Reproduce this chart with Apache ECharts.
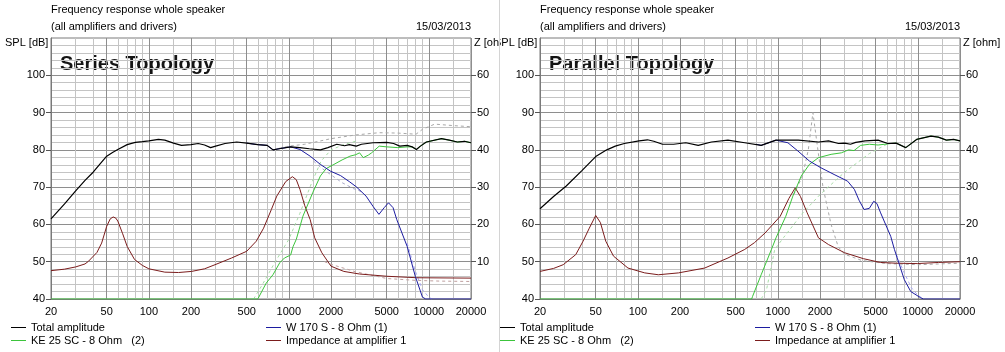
<!DOCTYPE html>
<html>
<head>
<meta charset="utf-8">
<script src="https://cdn.jsdelivr.net/npm/echarts@6/dist/echarts.min.js"></script>
<style>
  html, body { margin: 0; padding: 0; background: #fff; }
  .panel { position: absolute; top: 0; height: 352px; overflow: hidden; }
  #leftPanel { left: 0; width: 500px; border-right: 1px solid #d4d4d4; box-sizing: border-box; }
  #rightPanel { left: 500px; width: 505px; }
  .chart { position: absolute; top: 0; height: 352px; }
  #leftChart { left: 0; width: 510px; }
  #rightChart { left: -11px; width: 516px; }
</style>
</head>
<body>
<div id="leftPanel" class="panel"><div id="leftChart" class="chart"></div></div>
<div id="rightPanel" class="panel"><div id="rightChart" class="chart"></div></div>
<script>
// axis ticks
var FREQ_LABELS = [20, 50, 100, 200, 500, 1000, 2000, 5000, 10000, 20000];
var MINOR_FREQS = [30, 40, 60, 70, 80, 90, 150, 300, 400, 600, 700, 800, 900,
  1500, 3000, 4000, 6000, 7000, 8000, 9000, 15000];
var SPL_TICKS = [40, 50, 60, 70, 80, 90, 100];
var Z_TICKS = [10, 20, 30, 40, 50, 60];

// ---- Series topology (left) : [Hz, dB] / [Hz, ohm]
var seriesTotal = [[20,61.5],[25,65.5],[30,69],[35,71.8],[40,74],[45,76.3],[50,78.3],[55,79.3],[60,80.1],[70,81.4],[80,82],[90,82.2],[100,82.4],[117,82.8],[130,82.6],[150,81.8],[171,81.2],[200,81.4],[225,81.7],[250,81.3],[276,80.6],[300,81],[350,81.7],[424,82.1],[500,81.8],[600,81.4],[700,81.2],[771,80],[850,80.3],[1030,80.8],[1200,80.6],[1400,80.3],[1680,80],[1900,80.6],[2200,81.5],[2500,81.1],[2700,81.4],[3030,81],[3300,81.5],[4000,81.9],[5000,82],[5600,81.7],[6200,81],[7000,81.2],[7600,80.8],[8150,80.1],[8700,81],[9600,82.1],[12300,83],[14000,82.6],[16000,82.1],[18000,82.3],[20000,81.9]];
var seriesWoofer = [[500,81.8],[600,81.4],[700,81.2],[771,80],[850,80.3],[1030,80.8],[1200,80.1],[1420,78.3],[1680,76.1],[1980,74.3],[2340,73.1],[2700,71.5],[3030,70.1],[3560,67.6],[4000,64.8],[4400,62.7],[4800,64.5],[5150,65.8],[5550,64.5],[5900,61.3],[7000,54.1],[8000,46.1],[9000,40.5],[9500,40],[20000,40]];
var seriesTweeter = [[20,40],[600,40],[690,44.3],[770,46.5],[860,49.7],[930,51],[1030,51.8],[1070,54],[1130,56],[1260,62.2],[1480,68.5],[1680,73],[1850,75],[2100,76.1],[2400,77.3],[2730,78.3],[3000,78.7],[3200,79.2],[3400,77.9],[3700,78.6],[3900,79.2],[4420,81],[5000,80.8],[6000,80.6],[7000,80.8],[7600,80.8],[8150,80.1],[8700,81],[9600,82.1],[12300,83],[14000,82.6],[16000,82.1],[18000,82.3],[20000,81.9]];
var seriesImpedance = [[20,7.6],[25,8],[30,8.6],[35,9.4],[37,10.1],[42.6,12.5],[46,15],[50,19.5],[53,21.5],[55.6,22],[58,21.7],[60,20.9],[65,17.5],[70,14.1],[79,10.6],[90,9],[100,8.1],[130,7.2],[163,7.1],[202,7.4],[250,8.1],[297,9.2],[390,11],[500,12.8],[585,15.5],[660,19],[750,24],[820,27.6],[950,31.5],[1060,32.8],[1130,32],[1200,29.4],[1300,25],[1420,21.3],[1530,16.4],[1720,12.4],[2000,8.8],[2470,7.4],[3200,6.7],[5000,6.1],[8200,5.7],[20000,5.6]];
var seriesRefUpper = [[850,80.4],[1000,81],[1300,81.5],[2000,83],[3000,84],[4400,84.6],[6000,84.5],[8100,84.2],[9000,85.5],[11000,86.9],[15000,86.5],[20000,86.2]];
var seriesRefTweeter = [[560,40],[650,44],[800,50],[1000,56],[1200,63],[1450,71],[1700,77],[2000,80],[2500,81.5],[3000,82.3]];
var seriesRefWoofer = [[1500,77],[1700,75.2],[2000,73.3],[2400,71.2],[2900,69.6],[3300,68.8]];
var seriesRefWooferTop = [[7000,55],[8000,47.5],[9000,42.5],[10000,40.5],[10500,40]];
var seriesRefImpedance = [[1800,10],[2000,9.3],[3000,7.3],[5000,5.5],[8000,5],[12000,4.8],[20000,4.7]];

// ---- Parallel topology (right)
var parallelTotal = [[20,64.2],[25,67.5],[30.8,70.3],[40,74.5],[50,78.2],[60,80],[69,81],[80,81.7],[102,82.4],[117,82.7],[130,82.3],[150,81.5],[180,81.5],[220,81.9],[270,81.2],[335,82.1],[440,82.6],[580,81.9],[760,81.2],[970,82.6],[1400,82.6],[1950,82.1],[2300,82.4],[2710,81.7],[3000,81.8],[3300,81.5],[3600,82],[4200,82.4],[5200,82.6],[6100,81.7],[7000,81.8],[8200,80.6],[9800,82.8],[12400,83.7],[14000,83.4],[16000,82.6],[18000,82.8],[20000,82.4]];
var parallelWoofer = [[700,81.5],[760,81.2],[970,82.6],[1180,81.9],[1390,79.7],[1680,77],[2030,75.2],[2520,73.4],[3150,71.6],[3520,69.4],[3800,66.5],[4130,64],[4500,64.3],[4840,66.2],[5100,65.6],[5420,63.1],[6400,56.8],[6800,53.3],[8000,45.2],[8900,42],[10500,40.3],[11000,40],[20000,40]];
var parallelTweeter = [[20,40],[650,40],[660,40.7],[760,46.5],[900,53.3],[970,56.4],[1140,62.2],[1280,67.6],[1470,73],[1680,76.1],[1950,77.9],[2400,78.8],[2840,79.2],[3200,80],[3500,79.8],[3900,81.2],[4500,81.5],[5200,81.3],[6400,81.7],[7000,81.8],[8200,80.6],[9800,82.8],[12400,83.7],[14000,83.4],[16000,82.6],[18000,82.8],[20000,82.4]];
var parallelImpedance = [[20,7.4],[25,8.2],[29.3,9.2],[36,11.9],[40.6,15.5],[45,19],[50,22.4],[54,20.5],[59,15.5],[67,11.5],[85,8.3],[112,7],[140,6.5],[195,7],[300,8.3],[440,11],[580,13.3],[680,15.1],[810,17.7],[1040,22.2],[1200,27],[1330,29.8],[1450,27.5],[1620,23.1],[1950,16.4],[2300,14.6],[3000,12.4],[4100,10.8],[5400,9.8],[7000,9.6],[9900,9.5],[14000,9.8],[20000,10]];
var parallelRefImpedance = [[1300,28],[1500,33],[1650,40],[1780,50],[1900,42],[2100,30],[2400,20],[2700,14],[3000,12],[4000,10.3],[6000,9.5],[10000,9.2],[20000,9.6]];
var parallelRefTweeter = [[760,40],[830,42.5],[950,53.3],[1100,56.5],[1500,63],[2000,68],[3000,74],[4500,79],[6300,81.9]];
var parallelRefWooferTop = [[7000,52],[8000,47],[9000,43],[10000,41],[11000,40]];

var NAMES = ['Total amplitude', 'KE 25 SC - 8 Ohm   (2)', 'W 170 S - 8 Ohm (1)', 'Impedance at amplifier 1'];
var FONT = '"Liberation Sans", Arial, sans-serif';

function line(name, data, color, yIndex, dashed, width) {
  return {
    name: name,
    type: 'line',
    xAxisIndex: 1,
    yAxisIndex: yIndex,
    data: data,
    symbol: 'none',
    silent: true,
    animation: false,
    itemStyle: { color: color },
    lineStyle: { color: color, width: width || 1, type: dashed ? [3, 3] : 'solid' }
  };
}

function text(x, y, str, extra) {
  return {
    type: 'text', x: x, y: y, silent: true,
    style: Object.assign({ text: str, font: '11px ' + FONT, fill: '#000', textVerticalAlign: 'middle' }, extra || {})
  };
}

function legendItem(name, left, top) {
  return {
    left: left, top: top, itemWidth: 15, itemHeight: 1, icon: 'rect', padding: 0,
    selectedMode: false, data: [name],
    textStyle: { fontSize: 11, fontFamily: FONT, color: '#000' }
  };
}

function buildOption(p) {
  return {
    animation: false,
    backgroundColor: '#fff',
    grid: { left: 51, top: 38, width: 420, height: 261, show: true, borderColor: '#7a7a7a', borderWidth: 1, backgroundColor: '#fff' },
    xAxis: [
      {
        type: 'log', logBase: 10, min: 20, max: 20000, position: 'bottom',
        axisLine: { show: false }, axisTick: { show: false, customValues: MINOR_FREQS },
        axisLabel: { show: false },
        splitLine: { show: true, lineStyle: { color: '#c4c4c4', width: 1 } }
      },
      {
        type: 'log', logBase: 10, min: 20, max: 20000, position: 'bottom',
        axisLine: { show: true, lineStyle: { color: '#7a7a7a' } },
        axisTick: { show: false, customValues: FREQ_LABELS },
        axisLabel: {
          customValues: FREQ_LABELS, margin: 7, color: '#000', fontSize: 11, fontFamily: FONT,
          formatter: function (v) { return String(Math.round(v)); }
        },
        splitLine: { show: true, lineStyle: { color: '#8e8e8e', width: 1 } }
      }
    ],
    yAxis: [
      {
        type: 'value', min: 40, max: 110, interval: 10,
        axisLine: { show: true, lineStyle: { color: '#7a7a7a' } },
        axisTick: { show: true, length: 5, customValues: SPL_TICKS, lineStyle: { color: '#555' } },
        axisLabel: { customValues: SPL_TICKS, margin: 6, color: '#000', fontSize: 11, fontFamily: FONT },
        splitLine: { show: true, lineStyle: { color: '#8e8e8e', width: 1 } },
        minorTick: { show: false, splitNumber: 5 },
        minorSplitLine: { show: true, lineStyle: { color: '#c4c4c4', width: 1 } }
      },
      {
        type: 'value', min: 0, max: 70, interval: 10, position: 'right',
        axisLine: { show: false },
        axisTick: { show: true, length: 5, customValues: Z_TICKS, lineStyle: { color: '#555' } },
        axisLabel: { customValues: Z_TICKS, margin: 6, color: '#000', fontSize: 11, fontFamily: FONT },
        splitLine: { show: false }
      }
    ],
    legend: [
      legendItem(NAMES[0], 11, 322),
      legendItem(NAMES[1], 11, 335),
      legendItem(NAMES[2], 266, 322),
      legendItem(NAMES[3], 266, 335)
    ],
    graphic: [
      text(51, 10, 'Frequency response whole speaker'),
      text(51, 27, '(all amplifiers and drivers)'),
      text(471, 27, '15/03/2013', { textAlign: 'right' }),
      text(5, 43, 'SPL [dB]'),
      text(474, 43, 'Z [ohm]'),
      text(60, 64, p.title, { font: 'bold 20px ' + FONT, fill: '#141414' })
    ],
    series: p.dashed.concat([
      line(NAMES[3], p.impedance, '#7b1c1c', 1),
      line(NAMES[1], p.tweeter, '#3cc43c', 0),
      line(NAMES[2], p.woofer, '#1c1ca0', 0),
      line(NAMES[0], p.total, '#000000', 0, false, 1.2)
    ])
  };
}

var left = echarts.init(document.getElementById('leftChart'));
left.setOption(buildOption({
  title: 'Series Topology',
  total: seriesTotal, woofer: seriesWoofer, tweeter: seriesTweeter, impedance: seriesImpedance,
  dashed: [
    line('', seriesRefUpper, '#a8a8a8', 0, true),
    line('', seriesRefTweeter, '#a8dca8', 0, true),
    line('', seriesRefWoofer, '#a8a8c8', 0, true),
    line('', seriesRefWooferTop, '#a8a8f0', 0, true),
    line('', seriesRefImpedance, '#c0a0a0', 1, true)
  ]
}));

var right = echarts.init(document.getElementById('rightChart'));
right.setOption(buildOption({
  title: 'Parallel Topology',
  total: parallelTotal, woofer: parallelWoofer, tweeter: parallelTweeter, impedance: parallelImpedance,
  dashed: [
    line('', parallelRefImpedance, '#a8a8a8', 1, true),
    line('', parallelRefTweeter, '#a8dca8', 0, true),
    line('', parallelRefWooferTop, '#a8a8f0', 0, true)
  ]
}));
</script>
</body>
</html>
